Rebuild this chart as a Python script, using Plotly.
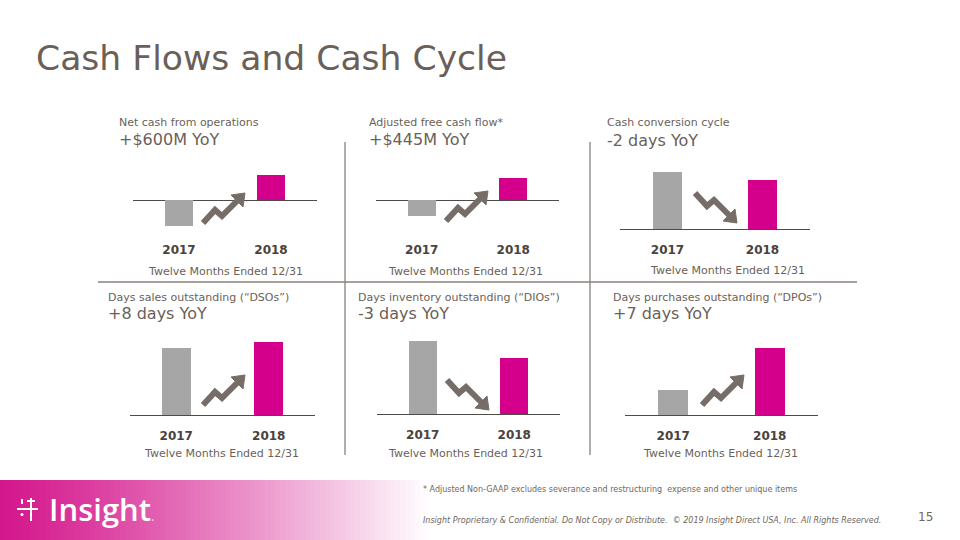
import plotly.graph_objects as go

W, H = 960, 540

# ---------------- data ----------------
years = ["2017", "2018"]
panel_titles = [
    "Net cash from operations",
    "Adjusted free cash flow*",
    "Cash conversion cycle",
    "Days sales outstanding (“DSOs”)",
    "Days inventory outstanding (“DIOs”)",
    "Days purchases outstanding (“DPOs”)",
]
panel_yoy = ["+$600M YoY", "+$445M YoY", "-2 days YoY", "+8 days YoY", "-3 days YoY", "+7 days YoY"]
value_labels_2018 = ["$292.6M", "$260.0M", "33 days", "102 days", "10 days", "79 days"]
values_2017 = [-307.4, -185.0, 35, 94, 13, 72]
values_2018 = [292.6, 260.0, 33, 102, 10, 79]
period_label = "Twelve Months Ended 12/31"
slide_title = "Cash Flows and Cash Cycle"
footnote = "* Adjusted Non-GAAP excludes severance and restructuring  expense and other unique items"
legal = "Insight Proprietary & Confidential. Do Not Copy or Distribute.  © 2019 Insight Direct USA, Inc. All Rights Reserved."
page_number = "15"

# ---------------- styles / layout ----------------
GRAY = "#a6a6a6"
MAGENTA = "#d4008c"
TXT = "#6b5f58"
DARK = "#4a423d"
LINE = "#8a817c"
BASE = "#4f4a47"
ARROW = "#776d68"
FONT = "DejaVu Sans"

panels = [
    dict(x0=133, x1=317, top=160, bot=232, yr=[-374, 468], zero=True, tx=117, ty=123, yy=139, vy=157, vshift=7, cx=225, cy=271, arrow=(203, 223)),
    dict(x0=376, x1=559, top=160, bot=232, yr=[-374, 468], zero=True, tx=367, ty=123, yy=139, vy=157, vshift=8, cx=465, cy=271, arrow=(446, 221)),
    dict(x0=620, x1=810, top=150, bot=229, yr=[20.75, 40.5], zero=False, tx=605, ty=123, yy=140, vy=149, vshift=0, cx=727, cy=270, arrow=(695, 193)),
    dict(x0=130, x1=315, top=330, bot=415, yr=[0, 118.7], zero=False, tx=106, ty=297, yy=313, vy=329, vshift=2, cx=221, cy=453, arrow=(203, 405)),
    dict(x0=377, x1=560, top=330, bot=414, yr=[0, 15], zero=False, tx=356, ty=297, yy=313, vy=328, vshift=0, cx=465, cy=453, arrow=(447, 380)),
    dict(x0=625, x1=818, top=330, bot=415, yr=[67.83, 82], zero=False, tx=611, ty=297, yy=313, vy=323, vshift=6, cx=720, cy=453, arrow=(702, 405)),
]


def px(x):
    return x / W


def py(y):
    return 1 - y / H


fig = go.Figure()
layout = {}
annotations = []
shapes = []

for i, p in enumerate(panels):
    n = "" if i == 0 else str(i + 1)
    xa, ya = "x" + n, "y" + n
    fig.add_trace(go.Bar(
        x=years, y=[values_2017[i], values_2018[i]], xaxis=xa, yaxis=ya,
        marker=dict(color=[GRAY, MAGENTA], line_width=0), width=0.31,
        showlegend=False, hoverinfo="skip",
    ))
    layout["xaxis" + n] = dict(
        domain=[px(p["x0"]), px(p["x1"])], anchor=ya, type="category", range=[-0.5, 1.5],
        showgrid=False, zeroline=False, showline=not p["zero"], linecolor=BASE, linewidth=1.3,
        tickvals=years, ticktext=["<b>%s</b>" % y for y in years],
        tickfont=dict(family=FONT, size=12, color=DARK), ticks="", ticklabelstandoff=9,
        fixedrange=True,
    )
    layout["yaxis" + n] = dict(
        domain=[py(p["bot"]), py(p["top"])], anchor=xa, range=p["yr"],
        showgrid=False, showticklabels=False, ticks="", showline=False,
        zeroline=p["zero"], zerolinecolor=BASE, zerolinewidth=1.3, fixedrange=True,
    )
    # panel texts
    annotations.append(dict(x=px(p["tx"]), y=py(p["ty"]), xref="paper", yref="paper", text=panel_titles[i],
                            showarrow=False, xanchor="left", yanchor="middle",
                            font=dict(family=FONT, size=11, color=TXT)))
    annotations.append(dict(x=px(p["tx"]), y=py(p["yy"]), xref="paper", yref="paper", text=panel_yoy[i],
                            showarrow=False, xanchor="left", yanchor="middle",
                            font=dict(family=FONT, size=16, color=TXT)))
    annotations.append(dict(x=years[1], y=py(p["vy"]), xref=xa, yref="paper", text=value_labels_2018[i],
                            showarrow=False, xanchor="center", yanchor="middle", xshift=p["vshift"],
                            font=dict(family=FONT, size=13.5, color=TXT)))
    annotations.append(dict(x=px(p["cx"]), y=py(p["cy"]), xref="paper", yref="paper", text=period_label,
                            showarrow=False, xanchor="center", yanchor="middle",
                            font=dict(family=FONT, size=11, color=TXT)))
    # zig-zag trend arrow
    sx, sy = p["arrow"]
    s = -1 if values_2018[i] > values_2017[i] else 1
    pts = [(0, 0), (12, 13 * s), (19, 7 * s), (34, 22 * s)]
    tip = (42, 30 * s)
    bx, by = pts[-1]
    dx, dy = tip[0] - bx, tip[1] - by
    L = (dx * dx + dy * dy) ** 0.5
    nx, ny = -dy / L, dx / L
    hw = 8.5
    path = "M " + " L ".join("%.5f,%.5f" % (px(sx + a), py(sy + b)) for a, b in pts)
    shapes.append(dict(type="path", xref="paper", yref="paper", path=path,
                       line=dict(color=ARROW, width=6), layer="above"))
    head = [(bx + nx * hw, by + ny * hw), tip, (bx - nx * hw, by - ny * hw)]
    hpath = "M " + " L ".join("%.5f,%.5f" % (px(sx + a), py(sy + b)) for a, b in head) + " Z"
    shapes.append(dict(type="path", xref="paper", yref="paper", path=hpath,
                       fillcolor=ARROW, line=dict(color=ARROW, width=1), layer="above"))

# dividers
shapes.append(dict(type="line", xref="paper", yref="paper", x0=px(98), x1=px(857), y0=py(282), y1=py(282),
                   line=dict(color=LINE, width=1.3)))
for xv in (345, 590):
    shapes.append(dict(type="line", xref="paper", yref="paper", x0=px(xv), x1=px(xv), y0=py(142), y1=py(455),
                       line=dict(color=LINE, width=1.3)))

# gradient band (logo area)
mag = (212, 22, 140)
step = 5
for x in range(0, 440, step):
    t = min(1.0, (x + step / 2) / 430.0) ** 1.15
    c = tuple(int(round(m + (255 - m) * t)) for m in mag)
    shapes.append(dict(type="rect", xref="paper", yref="paper", x0=px(x), x1=px(x + step + 0.6),
                       y0=py(540), y1=py(480), fillcolor="rgb(%d,%d,%d)" % c, line=dict(width=0), layer="below"))

# logo icon
W_ = "white"
shapes += [
    dict(type="line", xref="paper", yref="paper", x0=px(17), x1=px(38), y0=py(509), y1=py(509), line=dict(color=W_, width=2)),
    dict(type="line", xref="paper", yref="paper", x0=px(31), x1=px(31), y0=py(498), y1=py(521), line=dict(color=W_, width=2)),
    dict(type="line", xref="paper", yref="paper", x0=px(27), x1=px(35), y0=py(501), y1=py(501), line=dict(color=W_, width=2)),
    dict(type="line", xref="paper", yref="paper", x0=px(22), x1=px(22), y0=py(499), y1=py(504), line=dict(color=W_, width=2)),
    dict(type="circle", xref="paper", yref="paper", x0=px(20.5), x1=px(23.5), y0=py(513), y1=py(516), fillcolor=W_, line=dict(width=0)),
]
annotations.append(dict(x=px(47), y=py(509), xref="paper", yref="paper",
                        text="Insight<span style='font-size:12px;color:#f3c9e2'>.</span>", showarrow=False,
                        xanchor="left", yanchor="middle",
                        font=dict(family="Open Sans", size=31, color="white", weight=600)))

# slide title and footers
annotations.append(dict(x=px(34), y=py(58), xref="paper", yref="paper", text=slide_title, showarrow=False,
                        xanchor="left", yanchor="middle", font=dict(family=FONT, size=34.6, color=TXT)))
annotations.append(dict(x=px(421), y=py(489), xref="paper", yref="paper", text=footnote, showarrow=False,
                        xanchor="left", yanchor="middle", font=dict(family=FONT, size=8, color="#6f6661")))
annotations.append(dict(x=px(421), y=py(520), xref="paper", yref="paper", text="<i>%s</i>" % legal, showarrow=False,
                        xanchor="left", yanchor="middle", font=dict(family=FONT, size=8, color="#6f6661")))
annotations.append(dict(x=px(925), y=py(517), xref="paper", yref="paper", text=page_number, showarrow=False,
                        xanchor="center", yanchor="middle", font=dict(family=FONT, size=12, color="#6f6661")))

fig.update_layout(
    width=W, height=H, margin=dict(l=0, r=0, t=0, b=0),
    paper_bgcolor="white", plot_bgcolor="rgba(0,0,0,0)",
    annotations=annotations, shapes=shapes, bargap=0, showlegend=False,
    **layout,
)
fig.write_html("out.html", config={"displayModeBar": False},
               post_script="document.body.style.margin='0';document.body.style.overflow='hidden';")
